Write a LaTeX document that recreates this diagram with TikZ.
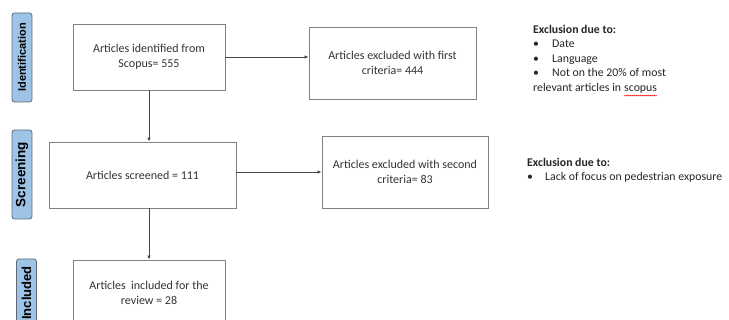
\documentclass[tikz,border=0pt]{standalone}
\usepackage{fontspec}
\setmainfont{Carlito}
\newfontfamily\tagfont{Liberation Sans}
\usetikzlibrary{arrows.meta,positioning,decorations.pathmorphing}
\definecolor{tagfill}{RGB}{157,195,230}
\definecolor{tagline}{RGB}{95,105,120}
\definecolor{boxline}{RGB}{128,128,128}
\definecolor{arrowline}{RGB}{70,70,70}
\newcommand{\spellmark}[1]{\tikz[baseline=(w.base)]{\node[inner sep=0pt] (w) {#1};
  \draw[red,line width=0.4pt,decorate,decoration={snake,amplitude=0.5pt,segment length=2pt}]
    ([yshift=-2pt]w.south west) -- ([yshift=-2pt]w.south east);}}
\tikzset{
  stagebox/.style={draw=boxline,line width=0.9pt,fill=white,align=center,
    font=\fontsize{12}{14.6}\selectfont,text=black!80},
  phasetag/.style={draw=tagline,fill=tagfill,rounded corners=2.5pt,rotate=90,
    minimum height=20pt,inner sep=0pt,line width=0.8pt},
  flowarrow/.style={draw=arrowline,line width=0.8pt,-{Latex[length=4pt,width=3.5pt]}},
  notetext/.style={anchor=north west,align=left,inner sep=0pt,
    font=\fontsize{11.8}{14.5}\selectfont,text=black!85}
}
\begin{document}
\begin{tikzpicture}[x=1pt,y=-1pt]
  \useasboundingbox (0,0) rectangle (729,320);
  \clip (0,0) rectangle (729,320);

  \node[phasetag,minimum width=89pt] (tagid) at (22,57.5)
    {\tagfont\bfseries\fontsize{11}{11}\selectfont Identification};
  \node[phasetag,minimum width=89pt] (tagscr) at (22,174.5)
    {\tagfont\bfseries\fontsize{13.5}{13.5}\selectfont Screening};
  \node[phasetag,minimum width=68pt] (taginc) at (26.5,293)
    {\tagfont\bfseries\fontsize{13}{13}\selectfont Included};

  \node[stagebox,minimum width=152pt,minimum height=66pt] (identified) at (149,57)
    {Articles identified from\\Scopus= 555};
  \node[stagebox,minimum width=167pt,minimum height=72pt] (excludedA) at (392.5,63)
    {Articles excluded with first\\criteria= 444};
  \node[stagebox,minimum width=187pt,minimum height=66pt] (screened) at (142.5,175)
    {Articles screened = 111};
  \node[stagebox,minimum width=166pt,minimum height=72pt] (excludedB) at (405,172)
    {Articles excluded with second\\criteria= 83};
  \node[stagebox,minimum width=152pt,minimum height=66pt] (included) at (149,293)
    {Articles\ \ included for the\\review = 28};

  \draw[flowarrow] (identified.east) -- (identified.east -| excludedA.west);
  \draw[flowarrow] (identified.south) -- (identified.south |- screened.north);
  \draw[flowarrow] (screened.east |- excludedB.west) -- (excludedB.west);
  \draw[flowarrow] (included.north |- screened.south) -- (included.north);

  \node[notetext] (reasonsA) at (533,25)
    {\textbf{Exclusion due to:}\\
     \makebox[19pt][l]{\textbullet}Date\\
     \makebox[19pt][l]{\textbullet}Language\\
     \makebox[19pt][l]{\textbullet}Not on the 20\% of most\\
     relevant articles in \spellmark{scopus}};
  \node[notetext] (reasonsB) at (527,158)
    {\textbf{Exclusion due to:}\\
     \makebox[18pt][l]{\textbullet}Lack of focus on pedestrian exposure};
\end{tikzpicture}
\end{document}
